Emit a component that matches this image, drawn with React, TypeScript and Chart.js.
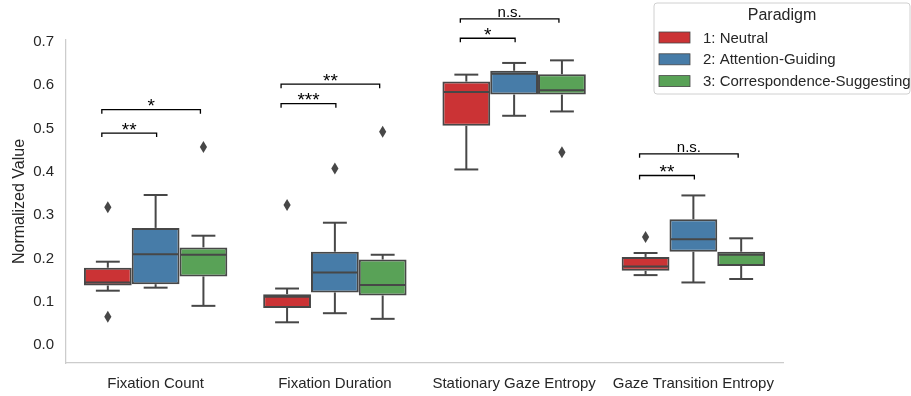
import { useEffect, useRef } from 'react';
import { Chart, registerables } from 'chart.js';

Chart.register(...registerables);

// ---------- data ----------
const categories = ['Fixation Count', 'Fixation Duration', 'Stationary Gaze Entropy', 'Gaze Transition Entropy'];
const paradigms = ['1: Neutral', '2: Attention-Guiding', '3: Correspondence-Suggesting'];
const yTickValues = [0.0, 0.1, 0.2, 0.3, 0.4, 0.5, 0.6, 0.7];

// 1: Neutral
const neutralLow = [0.121, 0.048, 0.401, 0.157];
const neutralQ1 = [0.133, 0.081, 0.502, 0.167];
const neutralMedian = [0.140, 0.107, 0.580, 0.177];
const neutralQ3 = [0.174, 0.113, 0.604, 0.199];
const neutralHigh = [0.188, 0.126, 0.620, 0.208];
const neutralOutliers = [[0.314, 0.061], [0.319], [], [0.245]];

// 2: Attention-Guiding
const attentionLow = [0.128, 0.069, 0.525, 0.140];
const attentionQ1 = [0.136, 0.117, 0.574, 0.211];
const attentionMedian = [0.205, 0.163, 0.622, 0.240];
const attentionQ3 = [0.266, 0.211, 0.629, 0.286];
const attentionHigh = [0.342, 0.278, 0.647, 0.341];
const attentionOutliers = [[], [0.403], [], []];

// 3: Correspondence-Suggesting
const correspondenceLow = [0.086, 0.056, 0.535, 0.148];
const correspondenceQ1 = [0.154, 0.110, 0.574, 0.178];
const correspondenceMedian = [0.204, 0.134, 0.584, 0.204];
const correspondenceQ3 = [0.221, 0.193, 0.621, 0.211];
const correspondenceHigh = [0.248, 0.204, 0.653, 0.242];
const correspondenceOutliers = [[0.453], [0.488], [0.441], []];

// significance annotations
const sigCategory = [0, 0, 1, 1, 2, 2, 3, 3];
const sigFrom = [0, 0, 0, 0, 0, 0, 0, 0];
const sigTo = [1, 2, 1, 2, 1, 2, 1, 2];
const sigLevel = [0.485, 0.539, 0.553, 0.598, 0.704, 0.749, 0.387, 0.437];
const sigLabel = ['**', '*', '***', '**', '*', 'n.s.', '**', 'n.s.'];

// ---------- style ----------
const FONT = "'Liberation Sans', Arial, Helvetica, sans-serif";
const TEXT = '#262626';
const EDGE = '#474747';
const SPINE = '#cccccc';
const COLORS = ['#cb3335', '#477ca8', '#59a257'];

const lows = [neutralLow, attentionLow, correspondenceLow];
const q1s = [neutralQ1, attentionQ1, correspondenceQ1];
const medians = [neutralMedian, attentionMedian, correspondenceMedian];
const q3s = [neutralQ3, attentionQ3, correspondenceQ3];
const highs = [neutralHigh, attentionHigh, correspondenceHigh];
const outliers = [neutralOutliers, attentionOutliers, correspondenceOutliers];

function line(ctx: CanvasRenderingContext2D, x1: number, y1: number, x2: number, y2: number) {
  ctx.beginPath();
  ctx.moveTo(x1, y1);
  ctx.lineTo(x2, y2);
  ctx.stroke();
}

const boxPlugin = {
  id: 'boxWhiskers',
  afterDatasetsDraw(chart: any) {
    const ctx: CanvasRenderingContext2D = chart.ctx;
    const ys = chart.scales.y;
    chart.data.datasets.forEach((_ds: any, i: number) => {
      const meta = chart.getDatasetMeta(i);
      meta.data.forEach((el: any, j: number) => {
        const x = el.x;
        const w = el.width;
        const pLo = ys.getPixelForValue(lows[i][j]);
        const pQ1 = ys.getPixelForValue(q1s[i][j]);
        const pMed = ys.getPixelForValue(medians[i][j]);
        const pQ3 = ys.getPixelForValue(q3s[i][j]);
        const pHi = ys.getPixelForValue(highs[i][j]);
        ctx.save();
        ctx.strokeStyle = EDGE;
        ctx.lineWidth = 2;
        line(ctx, x, pQ3, x, pHi);
        line(ctx, x - w / 4, pHi, x + w / 4, pHi);
        line(ctx, x, pQ1, x, pLo);
        line(ctx, x - w / 4, pLo, x + w / 4, pLo);
        line(ctx, x - w / 2 + 1, pMed, x + w / 2 - 1, pMed);
        ctx.fillStyle = EDGE;
        outliers[i][j].forEach((v: number) => {
          const py = ys.getPixelForValue(v);
          ctx.beginPath();
          ctx.moveTo(x, py - 6);
          ctx.lineTo(x + 3.6, py);
          ctx.lineTo(x, py + 6);
          ctx.lineTo(x - 3.6, py);
          ctx.closePath();
          ctx.fill();
        });
        ctx.restore();
      });
    });
  },
  afterDraw(chart: any) {
    const ctx: CanvasRenderingContext2D = chart.ctx;
    const ys = chart.scales.y;
    // significance brackets
    ctx.save();
    ctx.strokeStyle = '#000000';
    ctx.fillStyle = '#000000';
    ctx.lineWidth = 1.3;
    ctx.textAlign = 'center';
    ctx.textBaseline = 'alphabetic';
    sigLabel.forEach((label, k) => {
      const c = sigCategory[k];
      const xa = chart.getDatasetMeta(sigFrom[k]).data[c].x - 6;
      const xb = chart.getDatasetMeta(sigTo[k]).data[c].x + (sigTo[k] === 1 ? 1 : -3);
      const py = ys.getPixelForValue(sigLevel[k]);
      ctx.beginPath();
      ctx.moveTo(xa, py + 4);
      ctx.lineTo(xa, py);
      ctx.lineTo(xb, py);
      ctx.lineTo(xb, py + 4);
      ctx.stroke();
      const isStar = label.indexOf('*') >= 0;
      ctx.font = isStar ? `19px ${FONT}` : `15px ${FONT}`;
      ctx.fillText(label, (xa + xb) / 2, isStar ? py + 2.5 : py - 2);
    });
    ctx.restore();

    // legend
    ctx.save();
    const lx = 654, ly = 3, lw = 256, lh = 91, r = 3;
    ctx.beginPath();
    ctx.moveTo(lx + r, ly);
    ctx.lineTo(lx + lw - r, ly);
    ctx.quadraticCurveTo(lx + lw, ly, lx + lw, ly + r);
    ctx.lineTo(lx + lw, ly + lh - r);
    ctx.quadraticCurveTo(lx + lw, ly + lh, lx + lw - r, ly + lh);
    ctx.lineTo(lx + r, ly + lh);
    ctx.quadraticCurveTo(lx, ly + lh, lx, ly + lh - r);
    ctx.lineTo(lx, ly + r);
    ctx.quadraticCurveTo(lx, ly, lx + r, ly);
    ctx.closePath();
    ctx.fillStyle = 'rgba(255,255,255,0.8)';
    ctx.fill();
    ctx.strokeStyle = '#d0d0d0';
    ctx.lineWidth = 1;
    ctx.stroke();
    ctx.fillStyle = TEXT;
    ctx.font = `16px ${FONT}`;
    ctx.textAlign = 'center';
    ctx.textBaseline = 'middle';
    ctx.fillText('Paradigm', lx + lw / 2, 16);
    ctx.font = `15px ${FONT}`;
    ctx.textAlign = 'left';
    paradigms.forEach((p, i) => {
      const rowY = 37.5 + i * 21.8;
      ctx.fillStyle = COLORS[i];
      ctx.fillRect(659, rowY - 5.5, 31, 11);
      ctx.strokeStyle = EDGE;
      ctx.lineWidth = 0.8;
      ctx.strokeRect(659, rowY - 5.5, 31, 11);
      ctx.fillStyle = TEXT;
      ctx.fillText(p, 703, rowY + 1);
    });
    ctx.restore();
  },
};

export default function App() {
  const ref = useRef<HTMLCanvasElement>(null);
  useEffect(() => {
    const canvas = ref.current;
    if (!canvas) return;
    const chart = new Chart(canvas, {
      type: 'bar',
      data: {
        labels: categories,
        datasets: paradigms.map((p, i) => ({
          label: p,
          data: q1s[i].map((v, j) => [v, q3s[i][j]]),
          backgroundColor: COLORS[i],
          borderColor: EDGE,
          borderWidth: 2,
          borderSkipped: false,
          categoryPercentage: 0.8,
          barPercentage: 1,
        })) as any,
      },
      options: {
        responsive: false,
        animation: false,
        layout: { padding: { top: 40, right: 128, left: 0, bottom: 0 } },
        plugins: { legend: { display: false }, tooltip: { enabled: false } },
        scales: {
          x: {
            afterFit: (s: any) => { s.height = 33; },
            grid: { display: false, drawTicks: false },
            border: { display: true, color: SPINE, width: 1.25 },
            ticks: { padding: 12, color: TEXT, font: { family: FONT, size: 15 } },
          },
          y: {
            min: -0.046,
            max: 0.70,
            afterBuildTicks: (s: any) => { s.ticks = yTickValues.map((v) => ({ value: v })); },
            afterFit: (s: any) => { s.width = 66; },
            grid: { display: false, drawTicks: false },
            border: { display: true, color: SPINE, width: 1.25 },
            ticks: {
              padding: 12,
              labelOffset: 2,
              color: TEXT,
              font: { family: FONT, size: 15 },
              callback: (v: any) => Number(v).toFixed(1),
            },
            title: {
              display: true,
              text: 'Normalized Value',
              color: TEXT,
              font: { family: FONT, size: 16 },
              padding: { top: 10, bottom: 0 },
            },
          },
        },
      } as any,
      plugins: [boxPlugin],
    });
    return () => chart.destroy();
  }, []);
  return (
    <div style={{ position: 'fixed', left: 0, top: 0, width: 911, height: 396, background: '#ffffff' }}>
      <canvas ref={ref} width={911} height={396} style={{ display: 'block', width: 911, height: 396 }} />
    </div>
  );
}
